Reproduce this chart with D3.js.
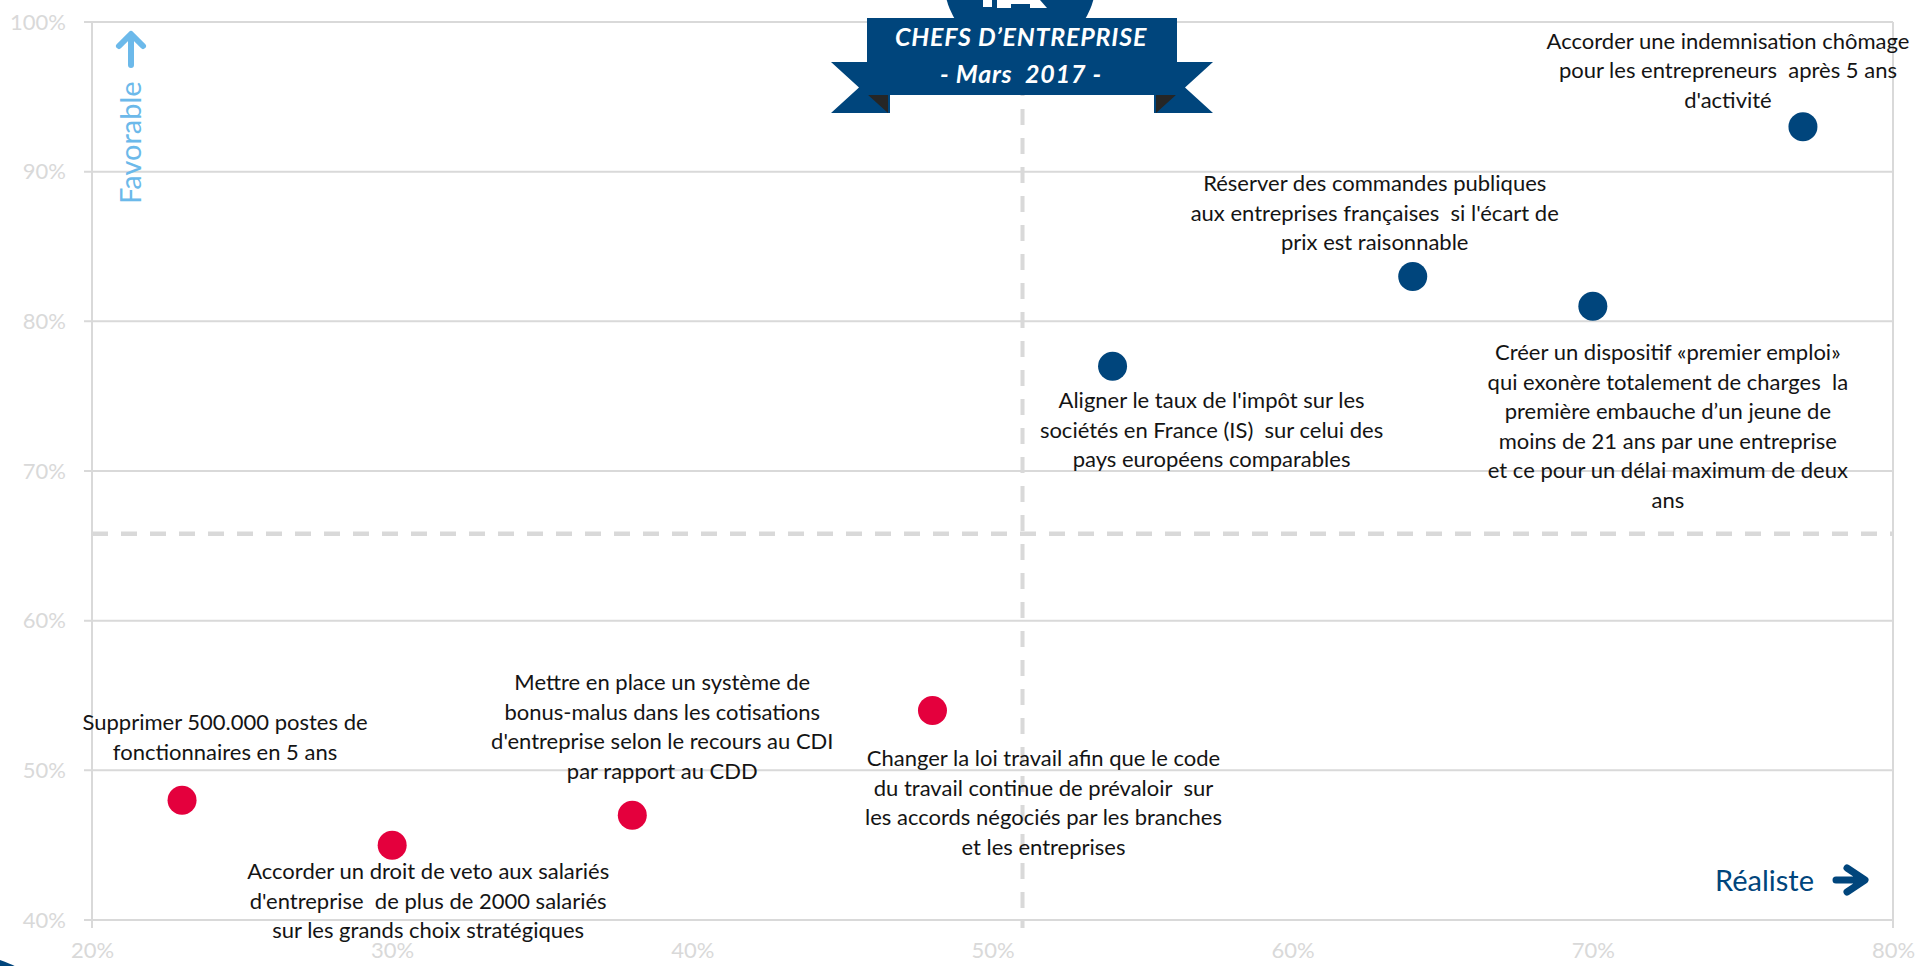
<!DOCTYPE html>
<html>
<head>
<meta charset="utf-8">
<script src="https://cdn.jsdelivr.net/npm/d3@7"></script>
<style>
	html, body { margin: 0; padding: 0; background: #fff; }
	svg { display: block; }
	.lbl { font-family: Lato, "Open Sans", sans-serif; font-size: 22px; fill: #141414; white-space: pre; }
	.tick-lbl { font-family: Lato, sans-serif; font-size: 22px; fill: #d9d9d9; }
</style>
</head>
<body>
<div id="chart"></div>
<script>
// mesures testées auprès des chefs d'entreprise (mars 2017)
var mesures = [
	"Supprimer 500.000 postes de\nfonctionnaires en 5 ans",
	"Accorder un droit de veto aux salariés\nd'entreprise  de plus de 2000 salariés\nsur les grands choix stratégiques",
	"Mettre en place un système de\nbonus-malus dans les cotisations\nd'entreprise selon le recours au CDI\npar rapport au CDD",
	"Changer la loi travail afin que le code\ndu travail continue de prévaloir  sur\nles accords négociés par les branches\net les entreprises",
	"Aligner le taux de l'impôt sur les\nsociétés en France (IS)  sur celui des\npays européens comparables",
	"Réserver des commandes publiques\naux entreprises françaises  si l'écart de\nprix est raisonnable",
	"Créer un dispositif «premier emploi»\nqui exonère totalement de charges  la\npremière embauche d’un jeune de\nmoins de 21 ans par une entreprise\net ce pour un délai maximum de deux\nans",
	"Accorder une indemnisation chômage\npour les entrepreneurs  après 5 ans\nd'activité"
];
var realiste  = [23, 30, 38, 48, 54, 64, 70, 77];   // % jugent la mesure réaliste
var favorable = [48, 45, 47, 54, 77, 83, 81, 93];   // % y sont favorables

var xTicks = [20, 30, 40, 50, 60, 70, 80],
	yTicks = [40, 50, 60, 70, 80, 90, 100],
	moyenneRealiste = 51,
	moyenneFavorable = 65.8;

var titreLignes = ["CHEFS D\u2019ENTREPRISE", "- Mars  2017 -"],
	axeX = "Réaliste",
	axeY = "Favorable";

(function() {
	"use strict";

	var svgWidth = 1920,
		svgHeight = 966,
		left = 92,
		right = 1893,
		top = 22,
		bottom = 920,
		blue = "#00457c",
		red = "#e4003d",
		lightBlue = "#6cb9ea",
		grid = "#d9d9d9",
		lineH = 29.5,
		// label placement relative to its dot (first line centre, px)
		labelNudge = [
			[43, -78], [36, 26], [30, -133], [111, 48],
			[99, 34], [-38, -93], [75, 46], [-75, -86]
		];

	var x = d3.scaleLinear().domain([20, 80]).range([left, right]),
		y = d3.scaleLinear().domain([40, 100]).range([bottom, top]);

	var svg = d3.select("#chart")
		.append("svg")
		.attr("width", svgWidth)
		.attr("height", svgHeight);

	// gridlines
	svg.append("g")
		.selectAll("line")
		.data(yTicks)
		.enter()
		.append("line")
		.attr("x1", left - 8)
		.attr("x2", right)
		.attr("y1", function(d) { return y(d); })
		.attr("y2", function(d) { return y(d); })
		.style("stroke", grid)
		.style("stroke-width", 2);

	svg.append("g")
		.selectAll("line")
		.data([20, 80])
		.enter()
		.append("line")
		.attr("x1", function(d) { return x(d); })
		.attr("x2", function(d) { return x(d); })
		.attr("y1", top)
		.attr("y2", bottom + 8)
		.style("stroke", grid)
		.style("stroke-width", 2);

	// axes (labels only, lines drawn above)
	var yAxis = svg.append("g")
		.attr("transform", "translate(" + left + ",0)")
		.call(d3.axisLeft(y).tickValues(yTicks).tickSize(0).tickPadding(26)
			.tickFormat(function(d) { return d + "%"; }));
	var xAxis = svg.append("g")
		.attr("transform", "translate(0," + bottom + ")")
		.call(d3.axisBottom(x).tickValues(xTicks).tickSize(0).tickPadding(27)
			.tickFormat(function(d) { return d + "%"; }));
	[yAxis, xAxis].forEach(function(a) {
		a.select(".domain").remove();
		a.selectAll("text")
			.attr("class", "tick-lbl")
			.attr("fill", null)
			.style("font-family", null)
			.style("font-size", null);
		a.attr("font-family", null).attr("font-size", null);
	});
	xAxis.selectAll("text").attr("dy", "0.5em");

	// average lines
	svg.append("line")
		.attr("x1", left)
		.attr("x2", right)
		.attr("y1", y(moyenneFavorable))
		.attr("y2", y(moyenneFavorable))
		.style("stroke", grid)
		.style("stroke-width", 4.5)
		.style("stroke-dasharray", "16,13");
	svg.append("line")
		.attr("x1", x(moyenneRealiste))
		.attr("x2", x(moyenneRealiste))
		.attr("y1", top)
		.attr("y2", bottom + 8)
		.style("stroke", grid)
		.style("stroke-width", 4)
		.style("stroke-dasharray", "16,13");

	// dots
	var data = mesures.map(function(m, i) {
		return { texte: m, x: realiste[i], y: favorable[i], nudge: labelNudge[i] };
	});

	svg.append("g")
		.selectAll("circle")
		.data(data)
		.enter()
		.append("circle")
		.attr("cx", function(d) { return x(d.x); })
		.attr("cy", function(d) { return y(d.y); })
		.attr("r", 14.5)
		.style("fill", function(d) { return d.y > moyenneFavorable ? blue : red; });

	// labels
	var labels = svg.append("g")
		.selectAll("text")
		.data(data)
		.enter()
		.append("text")
		.attr("class", "lbl")
		.attr("text-anchor", "middle");

	labels.each(function(d) {
		var cx = x(d.x) + d.nudge[0],
			cy = y(d.y) + d.nudge[1];
		d3.select(this)
			.selectAll("tspan")
			.data(d.texte.split("\n"))
			.enter()
			.append("tspan")
			.attr("x", cx)
			.attr("y", function(l, i) { return cy + i * lineH + 8; })
			.text(function(l) { return l; });
	});

	// axis titles
	svg.append("text")
		.attr("transform", "translate(141,204) rotate(-90)")
		.style("font-family", "Lato, sans-serif")
		.style("font-size", "29px")
		.style("fill", lightBlue)
		.text(axeY);
	svg.append("path")
		.attr("d", "M 131,65 L 131,35 M 119,46 L 131,34 L 143,46")
		.style("fill", "none")
		.style("stroke", lightBlue)
		.style("stroke-width", 6)
		.style("stroke-linecap", "round")
		.style("stroke-linejoin", "round");

	svg.append("text")
		.attr("x", 1814)
		.attr("y", 891)
		.attr("text-anchor", "end")
		.style("font-family", "Lato, sans-serif")
		.style("font-size", "29px")
		.style("fill", blue)
		.text(axeX);
	svg.append("path")
		.attr("d", "M 1836,880 L 1864,880 M 1847,868 L 1865,880 L 1847,892")
		.style("fill", "none")
		.style("stroke", blue)
		.style("stroke-width", 7)
		.style("stroke-linecap", "round")
		.style("stroke-linejoin", "round");

	// emblem + ribbon
	var banner = svg.append("g");
	banner.append("circle")
		.attr("cx", 1020)
		.attr("cy", -20)
		.attr("r", 76)
		.style("fill", blue);
	banner.append("rect")
		.attr("x", 983).attr("y", 0).attr("width", 9).attr("height", 7)
		.style("fill", "#fff");
	banner.append("path")
		.attr("d", "M 997,0 L 1040,0 L 1047,8 L 1030,8 L 1030,4 L 1011,4 L 1011,8 L 997,8 Z")
		.style("fill", "#fff");

	banner.append("path")
		.attr("d", "M 890,62 L 831,62 L 859,87.5 L 831,113 L 890,113 Z")
		.style("fill", blue);
	banner.append("path")
		.attr("d", "M 1154,62 L 1213,62 L 1185,87.5 L 1213,113 L 1154,113 Z")
		.style("fill", blue);
	banner.append("path")
		.attr("d", "M 867,94 L 888,94 L 888,113 Z")
		.style("fill", "#262626");
	banner.append("path")
		.attr("d", "M 1177,94 L 1156,94 L 1156,113 Z")
		.style("fill", "#262626");
	banner.append("rect")
		.attr("x", 867)
		.attr("y", 18)
		.attr("width", 310)
		.attr("height", 77)
		.style("fill", blue);
	banner.selectAll("text.titre")
		.data(titreLignes)
		.enter()
		.append("text")
		.attr("class", "titre")
		.attr("x", 1021)
		.attr("y", function(d, i) { return i === 0 ? 46 : 83; })
		.attr("text-anchor", "middle")
		.style("font-family", "Lato, sans-serif")
		.style("font-weight", "bold")
		.style("font-style", "italic")
		.style("font-size", "25px")
		.style("letter-spacing", "0.8px")
		.style("fill", "#fff")
		.style("white-space", "pre")
		.text(function(d) { return d; });

	// corner logo sliver
	svg.append("circle")
		.attr("cx", -80)
		.attr("cy", 1180)
		.attr("r", 234)
		.style("fill", blue);
})();
</script>
</body>
</html>
